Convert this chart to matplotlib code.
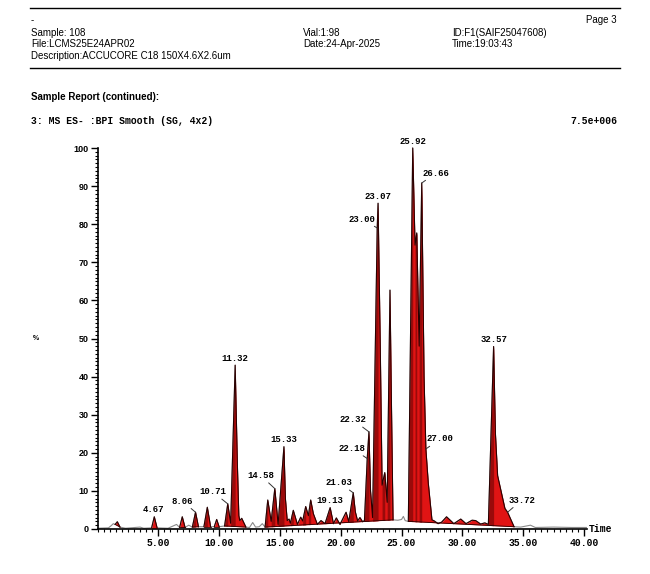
import numpy as np
import matplotlib.pyplot as plt
from matplotlib.lines import Line2D
from matplotlib.ticker import MultipleLocator

W, H = 650, 574

# chromatogram trace: time (min) and intensity (%)
trace_t = [0.00, 0.90, 1.10, 1.30, 1.45, 1.63, 1.85, 2.30, 3.50, 3.80,
           4.45, 4.67, 4.90, 5.80, 6.50, 6.75, 6.97, 7.20, 7.50, 7.80,
           8.06, 8.30, 8.75, 9.03, 9.30, 9.60, 9.80, 10.00, 10.45, 10.71,
           10.95, 11.32, 11.50, 11.62, 11.70, 11.86, 12.20, 12.50, 12.76, 13.00,
           13.30, 13.55, 13.78, 14.00, 14.28, 14.58, 14.85, 15.33, 15.45, 15.60,
           15.75, 15.86, 16.10, 16.44, 16.71, 16.87, 17.12, 17.34, 17.53, 17.75,
           18.08, 18.38, 18.71, 19.13, 19.40, 19.64, 19.94, 20.44, 20.66, 21.03,
           21.20, 21.39, 21.58, 21.80, 21.95, 22.18, 22.32, 22.45, 22.62, 23.00,
           23.07, 23.25, 23.40, 23.62, 23.82, 24.05, 24.16, 24.30, 24.70, 25.00,
           25.15, 25.30, 25.56, 25.92, 26.11, 26.25, 26.45, 26.66, 26.85, 27.00,
           27.20, 27.50, 27.70, 28.00, 28.30, 28.70, 29.30, 29.87, 30.30, 30.80,
           31.10, 31.50, 31.85, 32.14, 32.57, 32.72, 32.90, 33.50, 33.72, 34.25,
           34.80, 35.60, 36.00, 37.50, 39.00, 40.20]
trace_v = [0.2, 0.3, 0.8, 1.4, 1.2, 1.9, 0.5, 0.2, 0.5, 0.2,
           0.3, 3.2, 0.3, 0.2, 1.2, 0.4, 3.2, 0.4, 1.0, 0.5,
           4.4, 0.6, 0.6, 5.7, 0.6, 0.6, 2.5, 0.6, 0.8, 6.6,
           1.5, 43.0, 17.0, 3.5, 2.2, 2.8, 0.5, 0.4, 1.7, 0.5,
           0.6, 1.4, 0.5, 7.6, 2.0, 10.6, 1.2, 21.6, 8.0, 2.2,
           2.6, 1.5, 4.9, 1.2, 3.1, 2.1, 5.9, 3.5, 7.6, 4.0,
           1.2, 2.2, 1.4, 5.6, 1.4, 2.9, 1.2, 4.4, 1.9, 9.5,
           4.5, 2.1, 3.0, 1.9, 2.2, 18.5, 25.5, 10.0, 3.0, 79.0,
           85.5, 48.0, 11.5, 14.8, 7.0, 62.7, 35.0, 2.4, 2.3, 2.5,
           3.3, 2.2, 2.0, 100.0, 74.5, 77.7, 48.0, 90.8, 40.0, 21.0,
           12.0, 2.4, 2.1, 1.4, 1.8, 3.2, 1.4, 2.6, 1.4, 2.3,
           2.2, 1.3, 1.6, 1.2, 47.9, 25.0, 14.0, 5.4, 4.4, 0.6,
           0.5, 1.0, 0.4, 0.5, 0.4, 0.4]

# integrated (red) regions: start and end times
region_start = [1.45, 4.45, 6.75, 7.80, 8.75, 9.60, 10.45, 13.78, 25.56]
region_end = [1.85, 4.90, 7.20, 8.30, 9.30, 10.00, 12.20, 24.30, 34.25]

# labelled peaks
peak_labels = ["4.67", "8.06", "10.71", "11.32", "14.58", "15.33", "19.13",
               "21.03", "22.18", "22.32", "23.00", "23.07", "25.92", "26.66",
               "27.00", "32.57", "33.72"]
# text offset from the peak, pixels
label_dx = [-1, -13, -15, 0, -14, 0, 0, -14, -15, -16, -15, 0, 0, 14, 14, 0, 14]
label_dy = [7, 11, 12, 7, 13, 7, 7, 10, 10, 12, 9, 7, 6, 10, 10, 7, 12]

mono = ['Liberation Mono', 'DejaVu Sans Mono']
sans = ['Liberation Sans', 'DejaVu Sans']

fig = plt.figure(figsize=(W / 100, H / 100), dpi=100)


def ftext(x, y, s, **kw):
    fig.text(x / W, 1 - y / H, s, va='center', **kw)


def hline(y):
    fig.add_artist(Line2D([30 / W, 620 / W], [1 - y / H] * 2, color='black', lw=1.0))


# page header
hline(8)
hline(68)
ftext(31, 20, "-", family=sans, fontsize=7)
ftext(617, 20, "Page 3", family=sans, fontsize=7, ha='right')
ftext(31, 33, "Sample: 108", family=sans, fontsize=7)
ftext(31, 44, "File:LCMS25E24APR02", family=sans, fontsize=7)
ftext(31, 56, "Description:ACCUCORE C18 150X4.6X2.6um", family=sans, fontsize=7)
ftext(303, 33, "Vial:1:98", family=sans, fontsize=7)
ftext(303, 44, "Date:24-Apr-2025", family=sans, fontsize=7)
ftext(452, 33, "ID:F1(SAIF25047608)", family=sans, fontsize=7)
ftext(452, 44, "Time:19:03:43", family=sans, fontsize=7)
ftext(31, 97, "Sample Report (continued):", family=sans, fontsize=7, weight='bold')
ftext(31, 121, "3: MS ES- :BPI Smooth (SG, 4x2)", family=mono, fontsize=7, weight='bold')
ftext(617, 121, "7.5e+006", family=mono, fontsize=7, weight='bold', ha='right')
ftext(33, 338, "%", family=sans, fontsize=5, weight='bold')
ftext(589, 529, "Time", family=mono, fontsize=7, weight='bold')

x0, x1 = 97.5, 587
y0, y1 = 529, 148
ax = fig.add_axes([x0 / W, 1 - y0 / H, (x1 - x0) / W, (y0 - y1) / H])
ax.set_xlim(0, 40.25)
ax.set_ylim(0, 100)

t = np.array(trace_t)
v = np.array(trace_v)

# raw trace in grey
ax.plot(t, v, color='#8a8a8a', lw=0.8, clip_on=False, zorder=2)

# integrated peaks: red fill between trace and baseline
for a, b in zip(region_start, region_end):
    m = (t >= a - 1e-9) & (t <= b + 1e-9)
    ts, vs = t[m], v[m]
    base = vs[0] + (vs[-1] - vs[0]) * (ts - ts[0]) / (ts[-1] - ts[0])
    ax.fill_between(ts, vs, base, color='#e01414', lw=0, zorder=3, clip_on=False)
    # darker shading on the rising side of each peak
    for i in range(1, len(ts) - 1):
        if vs[i] > vs[i - 1] and vs[i] >= vs[i + 1] and vs[i] - base[i] > 3:
            j = i
            while j > 0 and vs[j - 1] < vs[j]:
                j -= 1
            ax.fill_between(ts[j:i + 1], vs[j:i + 1], base[j:i + 1],
                            color='#9a0a0a', lw=0, zorder=3.5, clip_on=False)
    ax.plot(ts, vs, color='#2a0000', lw=0.8, zorder=4, clip_on=False)
    ax.plot([ts[0], ts[-1]], [vs[0], vs[-1]], color='#2a0000', lw=0.6, zorder=4)

# peak labels
for lab, dx, dy in zip(peak_labels, label_dx, label_dy):
    pt = float(lab)
    pv = np.interp(pt, t, v)
    arrow = None
    if abs(dx) > 3:
        arrow = dict(arrowstyle='-', lw=0.7, color='#333333', shrinkA=0, shrinkB=0)
    ax.annotate(lab, (pt, pv), xytext=(dx, dy), textcoords='offset pixels',
                ha='center', va='center', family=mono, fontsize=6.5,
                weight='bold', zorder=6, annotation_clip=False, arrowprops=arrow)

# axes styling
for s in ['top', 'right']:
    ax.spines[s].set_visible(False)
ax.spines['left'].set_linewidth(1.2)
ax.spines['bottom'].set_linewidth(1.2)
ax.xaxis.set_minor_locator(MultipleLocator(0.5))
ax.yaxis.set_minor_locator(MultipleLocator(1))
ax.tick_params(axis='both', which='major', direction='out', length=5, width=1.0, pad=1.5)
ax.tick_params(axis='both', which='minor', direction='out', length=2.5, width=0.8)
ax.set_xticks([5, 10, 15, 20, 25, 30, 35, 40])
ax.set_xticklabels(["5.00", "10.00", "15.00", "20.00", "25.00", "30.00", "35.00", "40.00"],
                   family=mono, fontsize=7, weight='bold')
ax.set_yticks(range(0, 101, 10))
ax.set_yticklabels([str(i) for i in range(0, 101, 10)], family=sans, fontsize=6.5,
                   weight='bold')

fig.savefig('out.png', dpi=100)
